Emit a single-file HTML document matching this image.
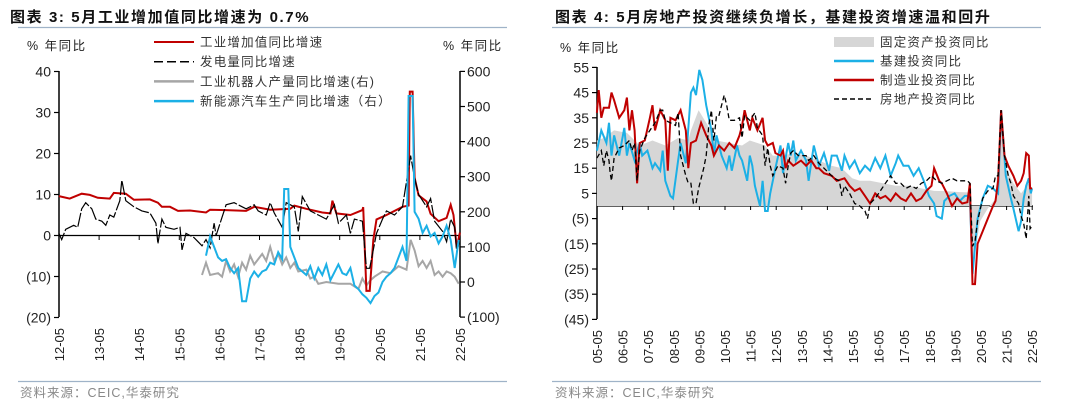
<!DOCTYPE html>
<html><head><meta charset="utf-8">
<style>
body{margin:0;background:#fff;}
svg{display:block;font-family:"Liberation Sans","Noto Sans CJK SC",sans-serif;}
</style></head>
<body>
<svg id="c" width="1080" height="407" viewBox="0 0 1080 407">
<g>
<text x="10" y="22" font-size="15" font-weight="bold" fill="#111" letter-spacing="1.6">图表 3:  5月工业增加值同比增速为 0.7%</text>
<line x1="18" y1="27.5" x2="507" y2="27.5" stroke="#9fb3c8" stroke-width="1.2"/>
<text x="27" y="50" font-size="12.5" fill="#222" letter-spacing="1.5">% 年同比</text>
<text x="443" y="50" font-size="12.5" fill="#222" letter-spacing="1.5">% 年同比</text>
<line x1="18" y1="381.5" x2="507" y2="381.5" stroke="#9fb3c8" stroke-width="1.2"/>
<text x="20" y="397" font-size="12.5" fill="#888" letter-spacing="1">资料来源：CEIC,华泰研究</text>
</g>
<g>
<text x="555" y="22" font-size="15" font-weight="bold" fill="#111" letter-spacing="1.6">图表 4:  5月房地产投资继续负增长，基建投资增速温和回升</text>
<line x1="552" y1="27.5" x2="1041" y2="27.5" stroke="#9fb3c8" stroke-width="1.2"/>
<text x="560" y="52" font-size="12.5" fill="#222" letter-spacing="1.5">% 年同比</text>
<line x1="552" y1="381.5" x2="1041" y2="381.5" stroke="#9fb3c8" stroke-width="1.2"/>
<text x="555" y="397" font-size="12.5" fill="#888" letter-spacing="1">资料来源：CEIC,华泰研究</text>
</g>
</svg>
<script>
// ---------- Left chart data ----------
const ivaT=[2012.33,2012.6,2012.9,2013.1,2013.3,2013.6,2013.7,2014.0,2014.2,2014.6,2014.8,2014.9,2015.1,2015.3,2015.6,2016.0,2016.1,2016.5,2017.0,2017.2,2017.6,2018.1,2018.2,2018.5,2018.9,2019.1,2019.15,2019.25,2019.6,2019.9,2019.92,2020.0,2020.08,2020.17,2020.25,2020.5,2020.9,2021.05,2021.08,2021.15,2021.2,2021.3,2021.5,2021.6,2021.8,2022.0,2022.1,2022.17,2022.25,2022.33];
const ivaV=[9.6,9.0,10.2,9.9,9.2,9.0,10.4,10.2,8.7,8.8,8.0,7.0,7.0,6.0,6.1,5.6,6.3,6.2,6.0,7.0,6.3,6.5,7.3,6.5,5.6,5.4,8.5,5.4,5.0,6.2,6.9,-13.5,-13.5,-1.1,3.9,5.0,7.0,7.3,35.1,35.1,14.1,9.8,8.3,5.3,3.5,4.3,7.5,5.0,-2.9,0.7];
const pwrT=[2012.33,2012.4,2012.5,2012.7,2012.8,2012.9,2013.0,2013.15,2013.25,2013.4,2013.5,2013.6,2013.7,2013.85,2013.9,2014.0,2014.2,2014.4,2014.6,2014.75,2014.8,2014.9,2015.0,2015.2,2015.35,2015.4,2015.5,2015.7,2015.8,2015.9,2016.0,2016.1,2016.2,2016.25,2016.4,2016.5,2016.7,2017.0,2017.2,2017.3,2017.5,2017.6,2017.7,2017.9,2018.0,2018.2,2018.3,2018.4,2018.6,2018.8,2019.0,2019.2,2019.3,2019.5,2019.6,2019.7,2019.9,2020.0,2020.08,2020.25,2020.4,2020.5,2020.7,2020.9,2021.1,2021.2,2021.3,2021.5,2021.6,2021.7,2021.9,2022.0,2022.1,2022.2,2022.25,2022.33];
const pwrV=[0.5,-1.0,1.5,2.5,2,6.5,8,6.5,4,3.5,2.5,5,4.5,8.5,13.5,8.5,7,6,5.5,3,-2,4,2,1.5,2.0,-3.5,0.5,-0.5,-1.5,-2.5,-1.0,-3.0,3,0,4.5,7.5,8,6.5,7.5,6,5,8,5.5,2,8,7,1,9.5,6,5,4,7.5,3,5,0.5,4,3.5,-8,-8,0.5,4,6,5,7,19.5,14,10,7,9,3.5,1,-1.5,4,2,-4,-1];
const robT=[2015.9,2016.0,2016.1,2016.3,2016.4,2016.5,2016.6,2016.7,2016.8,2016.9,2017.0,2017.1,2017.2,2017.4,2017.5,2017.6,2017.7,2017.8,2017.9,2018.0,2018.1,2018.2,2018.3,2018.5,2018.6,2018.7,2018.8,2019.0,2019.3,2019.6,2019.8,2019.9,2020.0,2020.1,2020.2,2020.4,2020.6,2020.8,2021.0,2021.1,2021.2,2021.3,2021.4,2021.5,2021.6,2021.7,2021.8,2021.9,2022.0,2022.1,2022.2,2022.3];
const robV=[20,55,20,25,15,60,30,50,15,55,35,75,50,80,60,100,60,80,50,70,40,55,30,35,10,15,-5,0,-5,-5,-20,10,-10,5,15,30,25,45,35,120,90,45,60,40,60,20,30,15,30,25,15,-5];
const nevT=[2016.0,2016.1,2016.2,2016.3,2016.4,2016.5,2016.6,2016.7,2016.8,2016.9,2017.0,2017.1,2017.2,2017.3,2017.4,2017.5,2017.6,2017.7,2017.8,2017.9,2017.95,2018.05,2018.1,2018.2,2018.3,2018.4,2018.5,2018.6,2018.7,2018.8,2018.9,2019.0,2019.1,2019.3,2019.4,2019.5,2019.6,2019.7,2019.8,2019.9,2020.0,2020.1,2020.2,2020.3,2020.4,2020.5,2020.6,2020.7,2020.9,2021.0,2021.05,2021.15,2021.2,2021.3,2021.4,2021.5,2021.6,2021.7,2021.8,2021.9,2022.0,2022.1,2022.2,2022.3];
const nevV=[75,130,100,70,60,65,40,25,40,-55,-55,10,30,15,30,35,55,50,85,65,265,265,100,70,40,30,20,45,10,40,20,50,5,50,25,20,40,-10,-20,-35,-45,-60,-40,-30,0,15,25,40,100,60,530,530,200,180,140,160,130,140,110,130,160,120,40,120];
const leftTicks=[40,30,20,10,0,-10,-20];
const leftTickLabels=["40","30","20","10","0","(10)","(20)"];
const rightTicks=[600,500,400,300,200,100,0,-100];
const rightTickLabels=["600","500","400","300","200","100","0","(100)"];
const leftYears=["12-05","13-05","14-05","15-05","16-05","17-05","18-05","19-05","20-05","21-05","22-05"];

// ---------- Right chart data ----------
const faiT=[2005.33,2005.6,2006.0,2006.5,2007.0,2007.5,2008.0,2008.5,2008.9,2009.0,2009.3,2009.6,2010.0,2010.5,2011.0,2011.3,2011.6,2011.9,2012.2,2012.6,2013.0,2013.5,2014.0,2014.5,2014.9,2015.3,2015.6,2016.0,2016.5,2017.0,2017.5,2018.0,2018.5,2019.0,2019.5,2019.9,2020.0,2020.3,2020.6,2020.9,2021.1,2021.3,2021.6,2021.9,2022.2,2022.33];
const faiV=[26,27,30,29,24,26,24,27,26,30,38,33,26,25,24,26,25,24,20,20,21,20,18,16,15,11,10,10,9,8,8,7,6,5.9,5.5,5.4,-24.5,-6,-1,2.9,35,15,9,5,9,6.2];
const infT=[2005.33,2005.5,2005.7,2005.8,2005.9,2006.0,2006.2,2006.4,2006.5,2006.6,2006.8,2007.0,2007.1,2007.3,2007.5,2007.6,2007.8,2007.9,2008.0,2008.2,2008.3,2008.5,2008.6,2008.8,2009.0,2009.1,2009.2,2009.33,2009.45,2009.6,2009.8,2009.9,2010.0,2010.2,2010.4,2010.5,2010.6,2010.8,2010.9,2011.0,2011.2,2011.3,2011.4,2011.5,2011.6,2011.7,2011.8,2011.9,2012.0,2012.1,2012.3,2012.5,2012.6,2012.8,2012.9,2013.0,2013.1,2013.3,2013.5,2013.6,2013.8,2014.0,2014.2,2014.4,2014.5,2014.7,2014.9,2015.0,2015.2,2015.4,2015.6,2015.8,2016.0,2016.2,2016.4,2016.6,2016.8,2017.0,2017.1,2017.3,2017.5,2017.7,2017.9,2018.1,2018.3,2018.5,2018.6,2018.8,2018.9,2019.1,2019.3,2019.5,2019.7,2019.9,2020.0,2020.2,2020.4,2020.6,2020.8,2021.0,2021.12,2021.3,2021.5,2021.6,2021.8,2021.9,2022.0,2022.1,2022.2,2022.28,2022.33];
const infV=[22,30,25,33,20,28,20,31,20,25,18,25,20,22,15,17,14,22,10,4,3,18,25,17,45,47,44,54,50,40,30,20,28,20,15,20,14,24,20,18,10,20,16,8,4,0,10,-2,-2,5,15,24,13,25,20,26,18,22,18,10,24,16,21,14,20,20,14,20,15,18,13,16,14,19,15,20,12,17,20,16,16,12,15,10,4,1,-4,-5,2,4,5,2,4,4,-27,-5,3,8,7,5,38,12,3,-1,-10,-6,3,8,11,5,7];
const mfgT=[2005.33,2005.4,2005.5,2005.6,2005.8,2005.9,2006.0,2006.2,2006.4,2006.5,2006.6,2006.7,2006.8,2006.9,2007.0,2007.2,2007.4,2007.5,2007.6,2007.8,2008.0,2008.1,2008.2,2008.4,2008.6,2008.8,2008.9,2009.0,2009.2,2009.4,2009.6,2009.8,2009.9,2010.1,2010.3,2010.5,2010.7,2010.9,2011.0,2011.1,2011.3,2011.4,2011.6,2011.8,2011.9,2012.0,2012.2,2012.3,2012.5,2012.6,2012.7,2012.8,2013.0,2013.3,2013.5,2013.7,2013.9,2014.0,2014.2,2014.5,2014.7,2015.0,2015.2,2015.4,2015.6,2015.8,2016.0,2016.2,2016.4,2016.6,2016.8,2017.0,2017.2,2017.4,2017.6,2017.8,2018.0,2018.2,2018.4,2018.5,2018.7,2018.8,2019.0,2019.2,2019.4,2019.6,2019.8,2019.9,2020.0,2020.1,2020.2,2020.4,2020.6,2020.8,2020.9,2021.0,2021.12,2021.25,2021.4,2021.6,2021.75,2021.9,2022.0,2022.1,2022.2,2022.25,2022.33];
const mfgV=[37,46,35,39,39,45,42,35,38,43,30,38,30,9,25,26,35,40,30,38,34,14,35,34,38,30,15,25,26,33,28,24,20,24,22,25,23,28,32,38,30,35,30,35,26,24,25,21,20,22,15,18,16,18,16,18,15,15,13,12,10,11,8,6,7,4,1,5,3,4,2,5,3,2,5,2,3,6,8,15,10,9,5,0,3,1,1.5,9,-31,-31,-15,-10,-5,0,2,10,38,20,16,12,8,10,13,21,20,7,7];
const reT=[2005.33,2005.5,2005.6,2005.7,2005.8,2005.85,2005.9,2006.0,2006.2,2006.4,2006.6,2006.7,2006.8,2006.9,2007.0,2007.2,2007.4,2007.6,2007.8,2007.9,2008.0,2008.2,2008.4,2008.5,2008.6,2008.8,2008.9,2009.0,2009.1,2009.2,2009.3,2009.5,2009.6,2009.7,2009.8,2009.9,2010.0,2010.1,2010.2,2010.3,2010.4,2010.5,2010.7,2010.9,2011.0,2011.1,2011.3,2011.5,2011.6,2011.8,2011.9,2012.0,2012.1,2012.2,2012.4,2012.6,2012.7,2012.8,2012.9,2013.0,2013.2,2013.4,2013.5,2013.6,2013.8,2014.0,2014.2,2014.4,2014.6,2014.8,2014.9,2015.0,2015.2,2015.4,2015.6,2015.8,2015.9,2016.0,2016.2,2016.4,2016.6,2016.8,2017.0,2017.2,2017.4,2017.6,2017.8,2018.0,2018.2,2018.4,2018.6,2018.8,2019.0,2019.2,2019.4,2019.6,2019.8,2019.9,2020.0,2020.1,2020.2,2020.4,2020.6,2020.8,2020.9,2021.0,2021.12,2021.25,2021.4,2021.5,2021.6,2021.8,2021.9,2022.0,2022.1,2022.2,2022.25,2022.33];
const reV=[19,22,16,22,18,13,10,19,23,24,26,22,25,10,22,27,30,33,38,38,34,33,32,37,20,12,9,9,1,1,7,15,20,32,38,26,36,36,40,44,40,34,34,35,27,36,34,37,31,28,16,23,16,12,16,15,9,16,21,22,20,20,20,18,20,17,15,13,11,10,4,8,5,1,0,-2,-5,1,3,6,9,12,9,9,7,8,7,9,10,12,10,9,10,11,10,10,10,9,-16,-14,-6,3,6,7,12,12,38,20,12,9,4,1,-4,-7,-13,4,-9,-8];
const rTicks=[55,45,35,25,15,5,-5,-15,-25,-35,-45];
const rTickLabels=["55","45","35","25","15","5","(5)","(15)","(25)","(35)","(45)"];
const rightYears=["05-05","06-05","07-05","08-05","09-05","10-05","11-05","12-05","13-05","14-05","15-05","16-05","17-05","18-05","19-05","20-05","21-05","22-05"];

const NS="http://www.w3.org/2000/svg";
const svg=document.getElementById('c');
function mk(tag,attrs,parent){const e=document.createElementNS(NS,tag);for(const k in attrs)e.setAttribute(k,attrs[k]);(parent||svg).appendChild(e);return e;}

const lx=t=>59+(t-2012.333)*40.1;
const ly=v=>235.5-v*4.1;
const ry=v=>282-v*0.351;
const bx=t=>597+(t-2005.333)*25.6;
const by=v=>206-v*2.52;

function pathOf(T,V,fx,fy){let d='';for(let i=0;i<T.length;i++){d+=(i?'L':'M')+fx(T[i]).toFixed(1)+','+fy(V[i]).toFixed(1);}return d;}

// ---- Left chart axes ----
const gL=mk('g',{});


mk('line',{x1:59,y1:71,x2:59,y2:317,stroke:'#000','stroke-width':1.5},gL);
mk('line',{x1:460,y1:71,x2:460,y2:317,stroke:'#000','stroke-width':1.5},gL);
mk('line',{x1:59,y1:235.5,x2:460,y2:235.5,stroke:'#000','stroke-width':1.2},gL);
leftTicks.forEach((v,i)=>{
  mk('line',{x1:54,y1:ly(v),x2:59,y2:ly(v),stroke:'#000','stroke-width':1.2},gL);
  const t=mk('text',{x:51,y:ly(v)+5,'text-anchor':'end','font-size':14,fill:'#222'},gL);
  t.textContent=leftTickLabels[i];
  
  
});
rightTicks.forEach((v,i)=>{
  mk('line',{x1:460,y1:ry(v),x2:465,y2:ry(v),stroke:'#000','stroke-width':1.2},gL);
  const t=mk('text',{x:467,y:ry(v)+5,'font-size':14,fill:'#222'},gL);
  t.textContent=rightTickLabels[i];
  
  
});
leftYears.forEach((s,i)=>{
  const x=lx(2012.333+i);
  if(i>0&&i<10) mk('line',{x1:x,y1:235.5,x2:x,y2:240,stroke:'#000','stroke-width':1},gL);
  const t=mk('text',{x:x+5,y:328,'text-anchor':'end','font-size':13,fill:'#222',transform:`rotate(-90 ${x+5} 328)`},gL);
  t.textContent=s;
  
  
});
let p;
p=mk('path',{d:pathOf(robT,robV,lx,ry),fill:'none',stroke:'#a6a6a6','stroke-width':2});


p=mk('path',{d:pathOf(ivaT,ivaV,lx,ly),fill:'none',stroke:'#c00000','stroke-width':2});


p=mk('path',{d:pathOf(pwrT,pwrV,lx,ly),fill:'none',stroke:'#000','stroke-width':1.2,'stroke-dasharray':'14 2'});


p=mk('path',{d:pathOf(nevT,nevV,lx,ry),fill:'none',stroke:'#1cb0e6','stroke-width':2});


const legL=[['工业增加值同比增速','#c00000',2,''],['发电量同比增速','#000',1.5,'9 4'],['工业机器人产量同比增速(右)','#a6a6a6',2.5,''],['新能源汽车生产同比增速（右）','#1cb0e6',2.5,'']];
legL.forEach((e,i)=>{
  const y=42+i*19.7;
  const g=mk('g',{});
  
  
  mk('line',{x1:154,y1:y,x2:194,y2:y,stroke:e[1],'stroke-width':e[2],'stroke-dasharray':e[3]},g);
  const t=mk('text',{x:200,y:y+4.5,'font-size':12.5,fill:'#333','letter-spacing':1.2},g);
  t.textContent=e[0];
});

// ---- Right chart ----
const gR=mk('g',{});


let area='M'+bx(faiT[0]).toFixed(1)+','+by(0)+pathOf(faiT,faiV,bx,by).replace(/^M/,'L')+'L'+bx(faiT[faiT.length-1]).toFixed(1)+','+by(0)+'Z';
p=mk('path',{d:area,fill:'#d6d6d6',stroke:'none'});


mk('line',{x1:597,y1:67,x2:597,y2:319,stroke:'#000','stroke-width':1.5},gR);
mk('line',{x1:597,y1:206,x2:1033,y2:206,stroke:'#000','stroke-width':1.2},gR);
rTicks.forEach((v,i)=>{
  mk('line',{x1:592,y1:by(v),x2:597,y2:by(v),stroke:'#000','stroke-width':1.2},gR);
  const t=mk('text',{x:589,y:by(v)+5,'text-anchor':'end','font-size':14,fill:'#222'},gR);
  t.textContent=rTickLabels[i];
  
  
});
rightYears.forEach((s,i)=>{
  const x=bx(2005.333+i);
  if(i>0) mk('line',{x1:x,y1:206,x2:x,y2:210,stroke:'#000','stroke-width':1},gR);
  const t=mk('text',{x:x+5,y:330,'text-anchor':'end','font-size':13,fill:'#222',transform:`rotate(-90 ${x+5} 330)`},gR);
  t.textContent=s;
  
  
});
p=mk('path',{d:pathOf(infT,infV,bx,by),fill:'none',stroke:'#1cb0e6','stroke-width':2});


p=mk('path',{d:pathOf(mfgT,mfgV,bx,by),fill:'none',stroke:'#c00000','stroke-width':2});


p=mk('path',{d:pathOf(reT,reV,bx,by),fill:'none',stroke:'#000','stroke-width':1.3,'stroke-dasharray':'5 3'});


const legR=[['固定资产投资同比','#d6d6d6','box'],['基建投资同比','#1cb0e6',''],['制造业投资同比','#c00000',''],['房地产投资同比','#000','5 3']];
legR.forEach((e,i)=>{
  const y=42+i*19;
  const g=mk('g',{});
  
  
  if(e[2]==='box') mk('rect',{x:834,y:y-5,width:40,height:10,fill:e[1]},g);
  else mk('line',{x1:834,y1:y,x2:874,y2:y,stroke:e[1],'stroke-width':e[2]?1.5:2.5,'stroke-dasharray':e[2]},g);
  const t=mk('text',{x:880,y:y+4.5,'font-size':12.5,fill:'#333','letter-spacing':1.2},g);
  t.textContent=e[0];
});
</script>
</body></html>
